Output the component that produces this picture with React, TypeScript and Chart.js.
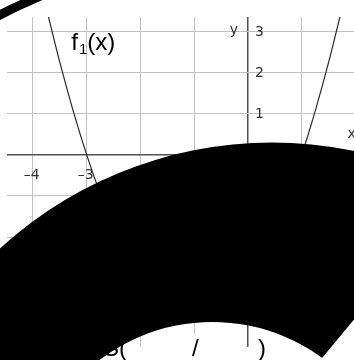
import React, { useEffect, useRef } from "react";
import { Chart, registerables } from "chart.js";

Chart.register(...registerables);

// Grid ticks and their labels
const xTicks = [-4, -3, -2, -1, 0, 1];
const xTickLabels = ["–4", "–3", "–2", "–1", "", "1"];
const yTicks = [-4, -3, -2, -1, 0, 1, 2, 3];
const yTickLabels = ["–4", "–3", "–2", "–1", "", "1", "2", "3"];

// Parabola f1 sampled at quarter steps
const curveX = [
  -3.75, -3.5, -3.25, -3, -2.75, -2.5, -2.25, -2, -1.75, -1.5, -1.25, -1,
  -0.75, -0.5, -0.25, 0, 0.25, 0.5, 0.75, 1, 1.25, 1.5, 1.75,
];
const curveY = [
  3.5625, 2.25, 1.0625, 0, -0.9375, -1.75, -2.4375, -3, -3.4375, -3.75,
  -3.9375, -4, -3.9375, -3.75, -3.4375, -3, -2.4375, -1.75, -0.9375, 0,
  1.0625, 2.25, 3.5625,
];

const GRID = "#c2c2c2";
const AXIS = "#505050";
const LABEL_FONT = "14px 'DejaVu Sans'";
const TITLE_FONT = "'Liberation Sans'";

// Thick curved black stroke across the sheet (in axis units)
const strokeOuter = { x: 0.446, y: -9.466, r: 7.472 };
const strokeInner = { x: -0.664, y: -8.587, r: 3.465 };
const strokeEnd = { x: 1.375, y: -4.939, angleDeg: -50.3 };
const strokeRing = [10.985, 11.152];

const overlayPlugin = {
  id: "sheetOverlay",
  afterDraw(chart: any) {
    const { ctx } = chart;
    const xs = chart.scales.x;
    const ys = chart.scales.y;
    const px = (v: number) => xs.getPixelForValue(v);
    const py = (v: number) => ys.getPixelForValue(v);
    const unit = px(1) - px(0);

    ctx.save();

    // tick labels
    ctx.font = LABEL_FONT;
    ctx.fillStyle = "#333";
    ctx.textBaseline = "alphabetic";
    ctx.textAlign = "center";
    xTicks.forEach((v, i) => {
      if (xTickLabels[i]) ctx.fillText(xTickLabels[i], px(v) - 1, py(0) + 24);
    });
    ctx.textAlign = "left";
    yTicks.forEach((v, i) => {
      if (yTickLabels[i]) ctx.fillText(yTickLabels[i], px(0) + 7, py(v) + 5);
    });
    // axis names
    ctx.textAlign = "right";
    ctx.fillText("y", px(0) - 10, py(3) + 3);
    ctx.textAlign = "left";
    ctx.fillText("x", px(1.85), py(0) - 17);

    // function name f1(x)
    ctx.fillStyle = "#000";
    let tx = px(-3.285);
    const ty = py(2.55);
    ctx.font = `24px ${TITLE_FONT}`;
    ctx.fillText("f", tx, ty);
    tx += ctx.measureText("f").width + 1;
    ctx.font = `15px ${TITLE_FONT}`;
    ctx.fillText("1", tx, ty + 4);
    tx += ctx.measureText("1").width;
    ctx.font = `24px ${TITLE_FONT}`;
    ctx.fillText("(x)", tx, ty);

    // vertex prompt S( / )
    const by = py(-4.88);
    ctx.fillStyle = "#fff";
    ctx.fillRect(px(-1) - 9, by - 22, 18, 30);
    ctx.fillStyle = "#000";
    ctx.textAlign = "right";
    ctx.fillText("S(", px(-2.25), by);
    ctx.textAlign = "center";
    ctx.fillText("/", px(-1) + 1, by);
    ctx.fillText(")", px(0.26), by);

    // black curved stroke
    const a = (strokeEnd.angleDeg * Math.PI) / 180;
    const d = [Math.cos(a), Math.sin(a)];
    const n = [d[1], -d[0]];
    const P = [px(strokeEnd.x), py(strokeEnd.y)];
    ctx.save();
    ctx.beginPath();
    ctx.moveTo(P[0] - 2000 * d[0], P[1] - 2000 * d[1]);
    ctx.lineTo(P[0] + 2000 * d[0], P[1] + 2000 * d[1]);
    ctx.lineTo(P[0] + 2000 * d[0] + 3000 * n[0], P[1] + 2000 * d[1] + 3000 * n[1]);
    ctx.lineTo(P[0] - 2000 * d[0] + 3000 * n[0], P[1] - 2000 * d[1] + 3000 * n[1]);
    ctx.closePath();
    ctx.clip();
    ctx.beginPath();
    const ox = px(strokeOuter.x), oy = py(strokeOuter.y), orr = strokeOuter.r * unit;
    const ix = px(strokeInner.x), iy = py(strokeInner.y), irr = strokeInner.r * unit;
    ctx.moveTo(ox + orr, oy);
    ctx.arc(ox, oy, orr, 0, Math.PI * 2);
    ctx.moveTo(ix + irr, iy);
    ctx.arc(ix, iy, irr, 0, Math.PI * 2);
    ctx.fillStyle = "#000";
    ctx.fill("evenodd");
    ctx.restore();

    // outer thin band in the corner
    ctx.beginPath();
    ctx.moveTo(ox + strokeRing[1] * unit, oy);
    ctx.arc(ox, oy, strokeRing[1] * unit, 0, Math.PI * 2);
    ctx.moveTo(ox + strokeRing[0] * unit, oy);
    ctx.arc(ox, oy, strokeRing[0] * unit, 0, Math.PI * 2);
    ctx.fillStyle = "#000";
    ctx.fill("evenodd");

    ctx.restore();
  },
};

const gridOpts = {
  drawTicks: false,
  color: (c: any) => (c.tick && c.tick.value === 0 ? AXIS : GRID),
  lineWidth: (c: any) => (c.tick && c.tick.value === 0 ? 1.5 : 1),
};

export default function App() {
  const ref = useRef<HTMLCanvasElement | null>(null);

  useEffect(() => {
    if (!ref.current) return;
    const chart = new Chart(ref.current, {
      type: "line",
      data: {
        datasets: [
          {
            data: curveX.map((x, i) => ({ x, y: curveY[i] })),
            borderColor: "#2a2a2a",
            borderWidth: 1.2,
            pointRadius: 0,
            tension: 0.3,
            fill: false,
          },
        ],
      },
      options: {
        animation: false,
        responsive: false,
        maintainAspectRatio: false,
        events: [],
        layout: { padding: { left: 7, top: 17, right: 0, bottom: 13 } },
        plugins: { legend: { display: false }, tooltip: { enabled: false } },
        scales: {
          x: {
            type: "linear",
            min: -4.48,
            max: 1.97,
            afterBuildTicks: (s: any) => {
              s.ticks = xTicks.map((v) => ({ value: v }));
            },
            ticks: { display: false },
            border: { display: false },
            grid: gridOpts,
          },
          y: {
            type: "linear",
            min: -4.67,
            max: 3.34,
            afterBuildTicks: (s: any) => {
              s.ticks = yTicks.map((v) => ({ value: v }));
            },
            ticks: { display: false },
            border: { display: false },
            grid: gridOpts,
          },
        },
      },
      plugins: [overlayPlugin],
    } as any);
    return () => chart.destroy();
  }, []);

  return (
    <div style={{ position: "absolute", left: 0, top: 0, width: 354, height: 360, background: "#fff" }}>
      <canvas ref={ref} width={354} height={360} style={{ display: "block" }} />
    </div>
  );
}
